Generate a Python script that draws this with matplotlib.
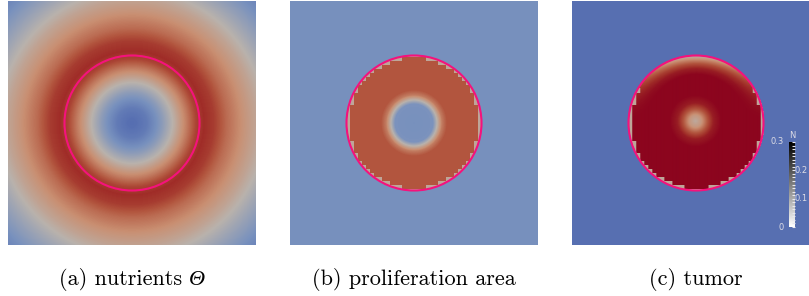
import numpy as np
import matplotlib
matplotlib.use("Agg")
import matplotlib.pyplot as plt
from matplotlib.colors import LinearSegmentedColormap
from matplotlib.patches import Circle
from matplotlib.ticker import MultipleLocator

# --- colour map (ParaView-like "cool to warm", as seen in the picture)
cmap_pos = [0.0, 0.15, 0.3, 0.5, 0.65, 0.8, 0.9, 1.0]
cmap_rgb = ['#4b64af', '#5870b2', '#7891be', '#b9b2ac', '#c98f72', '#b2553e', '#a02d28', '#8c051e']
cw = LinearSegmentedColormap.from_list('cw', list(zip(cmap_pos, cmap_rgb)))

# --- panel geometry (pixels of one panel)
W, H = 248, 244
cx, cy = 124, 122
R_tumor = 67.5
cell = 4  # coarse mesh cell of the simulation

# --- (a) nutrients: radial profile
nutr_r = [0, 15, 30, 42, 55, 64, 72, 82, 95, 110, 124, 145, 175]
nutr_v = [0.13, 0.2, 0.36, 0.52, 0.7, 0.84, 0.9, 0.86, 0.74, 0.64, 0.56, 0.42, 0.24]

# --- (b) proliferation area
prolif_bg = 0.3
prolif_r = [0, 19, 23, 28, 33]
prolif_v = [0.3, 0.31, 0.5, 0.7, 0.8]
edge_val = 0.55

# --- (c) tumor
tumor_bg = 0.15
cap_depth = [0, 4, 8, 13, 19]
cap_v = [0.5, 0.66, 0.8, 0.93, 1.0]
spot_r = [0, 6, 12, 18, 26]
spot_v = [0.54, 0.62, 0.8, 0.94, 1.0]
spot_c = (123, 120)

n_range = [0, 0.3]
n_ticks = [0, 0.1, 0.2, 0.3]

captions = [('(a) nutrients ', '\u0398'), ('(b) proliferation area', ''), ('(c) tumor', '')]

yy, xx = np.mgrid[0:H, 0:W] + 0.5
rr = np.hypot(xx - cx, yy - cy)
# radius of the coarse cell a pixel belongs to -> staircase border
xc = (np.floor(xx / cell) + 0.5) * cell
yc = (np.floor(yy / cell) + 0.5) * cell
rc = np.hypot(xc - cx, yc - cy)

field_a = np.interp(rr, nutr_r, nutr_v)

inside = rr < R_tumor
border = inside & (rc > R_tumor - 2.5)

field_b = np.full((H, W), prolif_bg)
field_b[inside] = np.interp(rr[inside], prolif_r, prolif_v)
field_b[border] = edge_val

field_c = np.full((H, W), tumor_bg)
up = np.clip(-(yy - cy) / np.maximum(rr, 1e-6), 0, 1) ** 2
cap = 1 - (1 - np.interp(R_tumor - rr, cap_depth, cap_v)) * up
spot = np.interp(np.hypot(xx - spot_c[0], yy - spot_c[1]), spot_r, spot_v)
val_c = np.minimum(cap, spot)
field_c[inside] = val_c[inside]
field_c[border & (yy > cy - 35)] = edge_val

fig = plt.figure(figsize=(8.09, 2.96), dpi=100)
renderer = fig.canvas.get_renderer()
panel_x = [8, 290, 572]
fields = [field_a, field_b, field_c]
axes = []
for px, fld, (txt, sym) in zip(panel_x, fields, captions):
    ax = fig.add_axes([px / 809, (296 - 245) / 296, W / 809, H / 296])
    ax.imshow(fld, cmap=cw, vmin=0, vmax=1, extent=(0, W, H, 0), interpolation='bilinear')
    ax.add_patch(Circle((cx, cy), R_tumor, fill=False, ec='#f5127c', lw=1.5))
    ax.set_xlim(0, W)
    ax.set_ylim(H, 0)
    ax.axis('off')

    # caption: roman part in cmr10, italic symbol after it
    t1 = fig.text(0, (296 - 285) / 296, txt, ha='left', va='baseline', fontsize=16, family='cmr10')
    w1 = t1.get_window_extent(renderer).width
    w2 = 0
    if sym:
        t2 = fig.text(0, (296 - 285) / 296, sym, ha='left', va='baseline', fontsize=16,
                      family='Liberation Serif', style='italic')
        w2 = t2.get_window_extent(renderer).width
    x0 = px + cx - (w1 + w2) / 2
    t1.set_x(x0 / 809)
    if sym:
        t2.set_x((x0 + w1) / 809)
    axes.append(ax)

# colour bar of N inside panel (c)
ax_c = axes[2]
cax = ax_c.inset_axes([217 / W, (H - 226) / H, 6 / W, 85 / H])
grad = np.linspace(n_range[0], n_range[1], 100).reshape(-1, 1)
cax.imshow(grad, cmap='gray_r', origin='lower', aspect='auto',
           extent=(0, 1, n_range[0], n_range[1]))
cax.set_xticks([])
cax.yaxis.tick_right()
cax.set_yticks([])
cax.yaxis.set_minor_locator(MultipleLocator(0.0125))
cax.tick_params(axis='y', which='minor', direction='in', length=2, width=0.8, color='#e8e8f0')
for s in cax.spines.values():
    s.set_visible(False)
lab_kw = dict(fontsize=6, color='#dcdce6', family='DejaVu Sans')
for t in n_ticks:
    lab = '0' if t == 0 else f'{t:.1f}'
    if t in (n_range[0], n_range[1]):
        cax.text(-0.8, t, lab, ha='right', va='center', **lab_kw)
    else:
        cax.text(0.9, t, lab, ha='left', va='center', **lab_kw)
cax.text(0.6, n_range[1] + 0.006, 'N', ha='center', va='bottom', **lab_kw)

fig.savefig('out.png', dpi=100)
